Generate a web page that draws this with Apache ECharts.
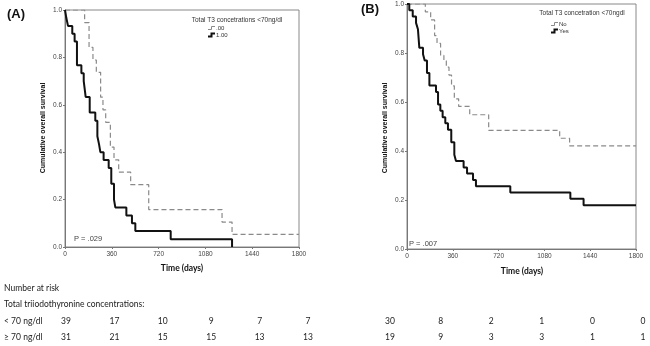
<!DOCTYPE html>
<html>
<head>
<meta charset="utf-8">
<script src="https://cdn.jsdelivr.net/npm/echarts@6/dist/echarts.min.js"></script>
<style>
  html, body { margin: 0; padding: 0; background: #fff; }
  #chart { width: 650px; height: 346px; }
</style>
</head>
<body>
<div id="chart"></div>
<script>
// panel A: total T3 < 70 ng/dl (.00 dashed, 1.00 solid)
const daysA0 = [0, 151, 185, 215, 241, 274, 292, 313, 349, 377, 413, 505, 644, 1208, 1285, 1800]
const survA0 = [1, 0.947, 0.842, 0.789, 0.737, 0.632, 0.579, 0.526, 0.421, 0.368, 0.316, 0.263, 0.158, 0.105, 0.053, 0.053]
const daysA1 = [0, 10, 23, 56, 74, 92, 126, 144, 159, 190, 233, 249, 262, 272, 297, 336, 356, 377, 387, 472, 515, 541, 813, 1285]
const survA1 = [1, 0.967, 0.933, 0.9, 0.867, 0.767, 0.733, 0.7, 0.633, 0.567, 0.533, 0.467, 0.433, 0.4, 0.367, 0.333, 0.267, 0.2, 0.167, 0.133, 0.1, 0.067, 0.033, 0]

// panel B: No dashed, Yes solid
const daysBNo = [0, 144, 186, 217, 236, 264, 290, 309, 330, 350, 372, 406, 493, 642, 1200, 1278, 1800]
const survBNo = [1, 0.968, 0.935, 0.871, 0.839, 0.790, 0.768, 0.742, 0.710, 0.666, 0.613, 0.582, 0.548, 0.484, 0.452, 0.421, 0.421]
const daysBYes = [0, 18, 45, 71, 86, 97, 126, 139, 157, 176, 228, 244, 262, 280, 301, 322, 348, 372, 385, 445, 472, 519, 542, 812, 1284, 1388, 1800]
const survBYes = [1, 0.974, 0.949, 0.923, 0.897, 0.821, 0.795, 0.769, 0.718, 0.667, 0.641, 0.590, 0.564, 0.538, 0.513, 0.487, 0.436, 0.385, 0.359, 0.333, 0.308, 0.282, 0.256, 0.231, 0.205, 0.179, 0.179]

// number at risk
const riskLowA = [39, 17, 10, 9, 7, 7]
const riskHighA = [31, 21, 15, 15, 13, 13]
const riskLowB = [30, 8, 2, 1, 0, 0]
const riskHighB = [19, 9, 3, 3, 1, 1]

const pair = (xs, ys) => xs.map((x, i) => [x, ys[i]])

const tickFont = { fontFamily: 'Liberation Sans', fontSize: 6.5, color: '#444' }

function xAxis(idx) {
  return {
    type: 'value', gridIndex: idx, min: 0, max: 1800, interval: 360,
    axisLine: { onZero: false, lineStyle: { color: '#777' } },
    axisTick: { length: 2, lineStyle: { color: '#777' } },
    splitLine: { show: false },
    axisLabel: Object.assign({ margin: 4, formatter: v => String(v) }, tickFont)
  }
}
function yAxis(idx) {
  return {
    type: 'value', gridIndex: idx, min: 0, max: 1, interval: 0.2,
    axisLine: { lineStyle: { color: '#777' } },
    axisTick: { length: 2, lineStyle: { color: '#777' } },
    splitLine: { show: false },
    axisLabel: Object.assign({ margin: 3, formatter: v => v.toFixed(1) }, tickFont)
  }
}
function dashed(idx, data) {
  return {
    type: 'line', xAxisIndex: idx, yAxisIndex: idx, step: 'end', symbol: 'none',
    data, lineStyle: { color: '#8a8a8a', width: 1.2, type: [5, 3] }, silent: true
  }
}
function solid(idx, data) {
  return {
    type: 'line', xAxisIndex: idx, yAxisIndex: idx, step: 'end', symbol: 'none',
    data, lineStyle: { color: '#111', width: 2 }, silent: true
  }
}

function legendIcon(x, y, isDashed) {
  return {
    type: 'polyline', silent: true,
    shape: { points: [[x, y + 1.5], [x + 3.5, y + 1.5], [x + 3.5, y - 1.5], [x + 7, y - 1.5]] },
    style: { stroke: isDashed ? '#8a8a8a' : '#111', lineWidth: isDashed ? 1 : 2, fill: null }
  }
}

const graphics = []
// panel labels
graphics.push({ type: 'text', x: 7, y: 8, style: { text: '(A)', font: 'bold 13px "Liberation Sans"', fill: '#111' } })
graphics.push({ type: 'text', x: 361, y: 3, style: { text: '(B)', font: 'bold 13px "Liberation Sans"', fill: '#111' } })
// y titles
graphics.push({ type: 'text', x: 43, y: 128, rotation: Math.PI / 2,
  style: { text: 'Cumulative overall survival', font: 'bold 7px "Liberation Sans"', fill: '#111', align: 'center', verticalAlign: 'middle' } })
graphics.push({ type: 'text', x: 385, y: 128, rotation: Math.PI / 2,
  style: { text: 'Cumulative overall survival', font: 'bold 7px "Liberation Sans"', fill: '#111', align: 'center', verticalAlign: 'middle' } })
// x titles
graphics.push({ type: 'text', x: 182, y: 268, style: { text: 'Time (days)', font: 'bold 8.5px Lato', fill: '#111', align: 'center', verticalAlign: 'middle' } })
graphics.push({ type: 'text', x: 522, y: 271, style: { text: 'Time (days)', font: 'bold 8.5px Lato', fill: '#111', align: 'center', verticalAlign: 'middle' } })
// legends
graphics.push({ type: 'text', x: 237, y: 20, style: { text: 'Total T3 concetrations <70ng/dl', font: '6.5px "Liberation Sans"', fill: '#333', align: 'center', verticalAlign: 'middle' } })
graphics.push(legendIcon(208, 28, true), legendIcon(208, 35, false))
graphics.push({ type: 'text', x: 216, y: 28, style: { text: '.00', font: '6px "Liberation Sans"', fill: '#333', verticalAlign: 'middle' } })
graphics.push({ type: 'text', x: 216, y: 35, style: { text: '1.00', font: '6px "Liberation Sans"', fill: '#333', verticalAlign: 'middle' } })
graphics.push({ type: 'text', x: 582, y: 13, style: { text: 'Total T3 concetration <70ngdl', font: '6.5px "Liberation Sans"', fill: '#333', align: 'center', verticalAlign: 'middle' } })
graphics.push(legendIcon(551, 24, true), legendIcon(551, 31, false))
graphics.push({ type: 'text', x: 559, y: 24, style: { text: 'No', font: '6px "Liberation Sans"', fill: '#333', verticalAlign: 'middle' } })
graphics.push({ type: 'text', x: 559, y: 31, style: { text: 'Yes', font: '6px "Liberation Sans"', fill: '#333', verticalAlign: 'middle' } })
// p values
graphics.push({ type: 'text', x: 74, y: 239, style: { text: 'P = .029', font: '7.5px "Liberation Sans"', fill: '#444', verticalAlign: 'middle' } })
graphics.push({ type: 'text', x: 409, y: 244, style: { text: 'P = .007', font: '7.5px "Liberation Sans"', fill: '#444', verticalAlign: 'middle' } })

// number at risk table
const tfont = 'normal 8.5px Lato'
graphics.push({ type: 'text', x: 4, y: 288, style: { text: 'Number at risk', font: tfont, fill: '#222', verticalAlign: 'middle' } })
graphics.push({ type: 'text', x: 4, y: 304, style: { text: 'Total triiodothyronine concentrations:', font: tfont, fill: '#222', verticalAlign: 'middle' } })
graphics.push({ type: 'text', x: 4, y: 321, style: { text: '< 70 ng/dl', font: tfont, fill: '#222', verticalAlign: 'middle' } })
graphics.push({ type: 'text', x: 4, y: 337, style: { text: '≥ 70 ng/dl', font: tfont, fill: '#222', verticalAlign: 'middle' } })
function riskRow(vals, x0, step, y) {
  vals.forEach((v, i) => {
    graphics.push({ type: 'text', x: x0 + i * step, y, style: { text: String(v), font: tfont, fill: '#222', align: 'center', verticalAlign: 'middle' } })
  })
}
riskRow(riskLowA, 66, 48.4, 321)
riskRow(riskHighA, 66, 48.4, 337)
riskRow(riskLowB, 390, 50.6, 321)
riskRow(riskHighB, 390, 50.6, 337)

const chart = echarts.init(document.getElementById('chart'), null, { renderer: 'canvas' })
chart.setOption({
  animation: false,
  backgroundColor: '#fff',
  grid: [
    { left: 65, right: 351, top: 10, bottom: 99, show: true, borderColor: '#888', borderWidth: 1 },
    { left: 407, right: 14, top: 4, bottom: 97, show: true, borderColor: '#888', borderWidth: 1 }
  ],
  xAxis: [xAxis(0), xAxis(1)],
  yAxis: [yAxis(0), yAxis(1)],
  series: [
    dashed(0, pair(daysA0, survA0)),
    solid(0, pair(daysA1, survA1)),
    dashed(1, pair(daysBNo, survBNo)),
    solid(1, pair(daysBYes, survBYes))
  ],
  graphic: graphics
})
</script>
</body>
</html>
